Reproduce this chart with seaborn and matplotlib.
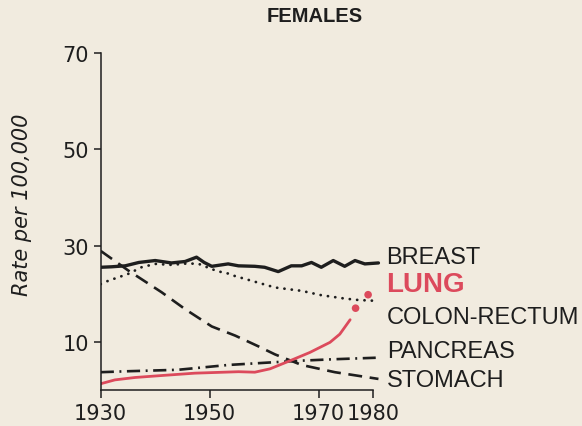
import numpy as np
import pandas as pd
import matplotlib
matplotlib.use("Agg")
import matplotlib.pyplot as plt
import seaborn as sns

# Values (rate per 100,000, females)
breast_years = [1930, 1932, 1934.5, 1937, 1940, 1943, 1945.5, 1947.6, 1949, 1950.4, 1953.4,
                1955.3, 1958.3, 1960.1, 1962.6, 1965, 1966.9, 1968.7, 1970.5, 1972.7, 1974.8,
                1976.7, 1978.5, 1981]
breast_rate = [25.5, 25.6, 25.8, 26.5, 26.9, 26.4, 26.7, 27.6, 26.5, 25.7, 26.2,
               25.8, 25.7, 25.5, 24.6, 25.8, 25.8, 26.5, 25.5, 26.9, 25.7,
               26.9, 26.2, 26.4]

colon_years = [1930, 1931.4, 1935, 1937.5, 1940, 1943, 1946, 1948, 1950, 1951.4, 1953.4,
               1954.6, 1958.3, 1962, 1966.9, 1970.5, 1974.8, 1977.3, 1981]
colon_rate = [22.0, 22.7, 24.1, 25.5, 26.2, 26.0, 26.3, 26.2, 25.3, 24.7, 24.2,
              23.7, 22.5, 21.3, 20.6, 19.7, 19.0, 18.7, 18.5]

lung_years = [1930, 1932.6, 1936.3, 1941.1, 1947.3, 1955.3, 1958.3, 1961.1, 1964.8,
              1968.4, 1972.1, 1973.9, 1975.8]
lung_rate = [1.3, 2.1, 2.6, 3.0, 3.5, 3.8, 3.7, 4.4, 6.1, 7.8, 9.9, 11.6, 14.6]
lung_dot_years = [1976.8, 1979.1]
lung_dot_rate = [17.0, 19.8]

pancreas_years = [1930, 1935, 1944.2, 1953.4, 1960.8, 1966.9, 1973, 1980.5]
pancreas_rate = [3.7, 3.9, 4.2, 5.2, 5.7, 6.1, 6.4, 6.7]

stomach_years = [1930, 1935.1, 1941.2, 1945.5, 1950.4, 1954.7, 1958.9, 1962, 1966.9, 1973, 1981]
stomach_rate = [28.9, 24.8, 20.3, 16.8, 13.2, 11.3, 9.1, 7.4, 5.2, 3.7, 2.3]

x_ticks = [1930, 1950, 1970, 1980]
y_ticks = [10, 30, 50, 70]

bg = "#F1EBDF"
ink = "#1e1e1e"
red = "#DC4A5C"

sns.set_style("ticks")
plt.rcParams["font.family"] = ["DejaVu Sans"]
plt.rcParams["lines.scale_dashes"] = False

fig = plt.figure(figsize=(5.82, 4.27), dpi=100, facecolor=bg)
ax = fig.add_axes([0.173, 0.0843, 0.4913, 0.789], facecolor=bg)

sns.lineplot(x=breast_years, y=breast_rate, ax=ax, color=ink, lw=2.4)
sns.lineplot(x=colon_years, y=colon_rate, ax=ax, color=ink, lw=2.0,
             linestyle=(0, (0.1, 5.2)), dash_capstyle="round")
sns.lineplot(x=stomach_years, y=stomach_rate, ax=ax, color=ink, lw=1.9,
             linestyle=(0, (10, 5.5)))
sns.lineplot(x=pancreas_years, y=pancreas_rate, ax=ax, color=ink, lw=1.9,
             linestyle=(0, (9.5, 4, 1.4, 4)))
sns.lineplot(x=lung_years, y=lung_rate, ax=ax, color=red, lw=2.0)
sns.scatterplot(x=lung_dot_years, y=lung_dot_rate, ax=ax, color=red, s=30,
                edgecolor="none", zorder=5)

ax.set_xlim(1930, 1982.5)
ax.set_ylim(0, 70)
ax.set_xticks(x_ticks)
ax.set_yticks(y_ticks)
ax.tick_params(axis="both", labelsize=15, colors=ink, width=1.1)
ax.tick_params(axis="x", length=6, pad=3.5)
ax.tick_params(axis="y", length=5, pad=3.5)
for side in ["top", "right"]:
    ax.spines[side].set_visible(False)
for side in ["left", "bottom"]:
    ax.spines[side].set_color(ink)
    ax.spines[side].set_linewidth(1.1)
ax.spines["bottom"].set_bounds(1930, 1980)
ax.set_xlabel("")
ax.set_ylabel("")

# Labels at the right end of each line
lab = dict(fontfamily="Liberation Sans", fontsize=17, color=ink, va="center", ha="left")
ax.text(1982.4, 27.6, "BREAST", **lab)
ax.text(1982.4, 22.0, "LUNG", fontfamily="Liberation Sans", fontsize=20,
        fontweight="bold", color=red, va="center", ha="left")
ax.text(1982.6, 15.2, "COLON-RECTUM", **lab)
ax.text(1982.6, 8.1, "PANCREAS", **lab)
ax.text(1982.6, 2.1, "STOMACH", **lab)

fig.text(315 / 582, 1 - 17 / 427, "FEMALES", fontfamily="Liberation Sans",
         fontsize=14.5, fontweight="bold", color=ink, ha="center", va="center")
fig.text(22 / 582, 1 - 205 / 427, "Rate per 100,000", fontstyle="italic",
         fontsize=15, color=ink, ha="center", va="center", rotation=90)

fig.savefig("out.png", dpi=100, facecolor=bg)
